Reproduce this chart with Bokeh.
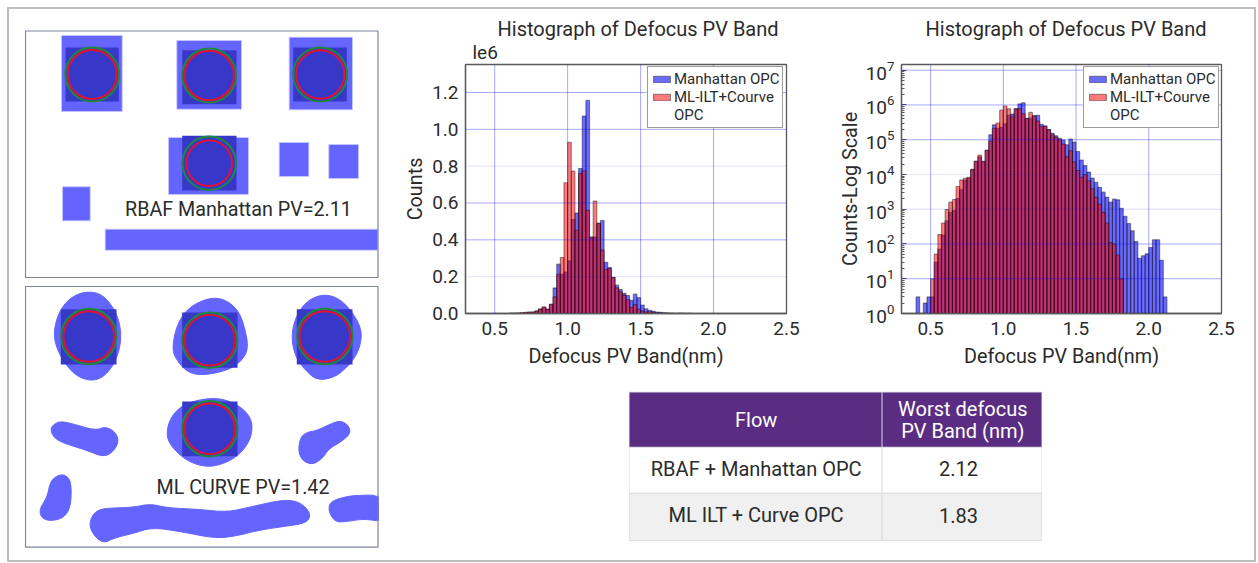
from bokeh.plotting import figure
from bokeh.layouts import row, column
from bokeh.models import (Range1d, FixedTicker, LogTicker, Span, Legend, LegendItem, Title)
from bokeh.core.properties import value
from bokeh.embed import file_html
from bokeh.resources import INLINE

# ---------------- histogram data ----------------
bin_start = 0.4
bin_width = 0.025
manhattan_counts = [3, 0, 2, 3, 3, 30, 72, 182, 468, 813, 912, 2040, 3700, 6900, 7900, 13800, 24000, 32000, 24000,
                    50000, 139000, 268000, 213000, 226000, 286000, 510000, 546000, 787000, 1072000, 1157000,
                    416000, 416000, 490000, 505000, 278000, 250000, 197000, 154000, 130000, 110000, 98000,
                    72000, 105000, 86000, 46000, 26000, 18000, 11700, 7900, 6000, 4300, 3100, 2200, 1600,
                    1950, 1860, 1070, 630, 390, 240, 117, 39, 46, 52, 79, 132, 132, 34, 3]
ml_first_bin = 4
ml_counts = [10, 51, 186, 400, 980, 1600, 1900, 4500, 6900, 7800, 8300, 14000, 24000, 36000, 23000, 50000, 90000,
             213000, 304000, 710000, 930000, 774000, 452000, 760000, 774000, 560000, 410000, 611000, 490000,
             344000, 239000, 244000, 195000, 139000, 118000, 100000, 75000, 32000, 48000, 23000, 13000, 8300,
             9800, 6500, 3900, 2200, 1400, 810, 400, 110, 100, 48, 10]
x_ticks = [0.5, 1.0, 1.5, 2.0, 2.5]
lin_ticks = [0, 200000, 400000, 600000, 800000, 1000000, 1200000]
lin_labels = ["0.0", "0.2", "0.4", "0.6", "0.8", "1.0", "1.2"]
lin_grid_alpha = [0, .12, .34, .34, .12, .34, .34]
log_ticks = [10, 100, 1000, 10000, 100000, 1000000, 10000000]
log_grid_alpha = [.34, .34, .14, .1, .34, .34, .34]
legend_labels = ["Manhattan OPC", "ML-ILT+Courve", "OPC"]
chart_title = "Histograph of Defocus PV Band"
x_title = "Defocus PV Band(nm)"

# ---------------- table ----------------
table_head = ["Flow", "Worst defocus", "PV Band (nm)"]
table_flows = ["RBAF + Manhattan OPC", "ML ILT + Curve OPC"]
table_worst = ["2.12", "1.83"]

# ---------------- layout schematic (top panel, px in panel space) ----------------
top_assist = [(61, 121.7, 35, 111), (176.3, 241, 40, 108.7), (288.7, 352, 36.7, 109.3), (168, 248, 137, 194),
              (278.7, 308.3, 142, 176), (328.3, 358, 144, 178), (62, 89.7, 186.3, 220.3), (104.7, 377.3, 228.7, 249.7)]
top_squares = [(65, 118.3, 47, 101), (181.7, 236, 49.7, 103.7), (292.7, 346.3, 47, 101), (181.7, 236, 135.3, 190)]
top_circles = [(91.7, 74, 27, 24.5), (208.7, 75, 27, 24.7), (319.7, 74, 27, 24.2), (208.7, 162.7, 26.8, 22.8)]
bot_squares = [(60.3, 116, 308.7, 364), (181.7, 237, 312, 367.3), (296.3, 352, 308.7, 364), (181.7, 237, 401, 455.7)]
bot_circles = [(88.3, 336, 27.7, 25.3), (209.3, 339.7, 27.7, 25.3), (324.3, 336, 27.7, 25.3), (209.3, 428.3, 27.7, 25.3)]
bot_blobs = [
    [(250,33),(300,38),(335,75),(358,125),(362,185),(345,245),(310,290),(270,302),(225,285),(190,245),(165,195),(160,150),(175,95),(205,55)],
    [(625,52),(670,55),(710,85),(730,130),(745,205),(720,245),(680,270),(605,285),(560,275),(525,235),(515,200),(530,130),(565,80)],
    [(960,42),(1005,48),(1045,80),(1085,145),(1078,205),(1050,250),(1005,290),(950,300),(915,270),(885,230),(872,170),(885,110),(915,65)],
    [(625,352),(680,358),(730,385),(757,425),(750,480),(710,530),(650,557),(600,557),(550,535),(510,495),(497,460),(510,410),(550,370)],
    [(175,422),(210,428),(285,450),(315,438),(345,455),(355,482),(340,512),(310,530),(260,510),(180,485),(155,465),(150,440)],
    [(1020,420),(1045,435),(1050,460),(1020,485),(985,505),(965,535),(935,553),(905,540),(893,510),(900,470),(920,455),(950,450),(990,430)],
    [(180,580),(205,590),(213,620),(210,680),(190,712),(150,722),(122,712),(117,685),(140,650),(150,600)],
    [(300,685),(350,682),(400,680),(450,670),(500,682),(600,687),(680,695),(760,677),(850,657),(900,665),(932,700),(918,728),(850,738),(780,748),(700,768),(640,773),(540,753),(455,741),(400,758),(340,773),(310,788),(282,768),(266,735),(276,702)],
    [(1010,655),(1060,644),(1150,644),(1150,724),(1090,715),(1040,723),(1005,725),(985,695),(987,668)],
]
top_caption = "RBAF Manhattan PV=2.11"
bot_caption = "ML CURVE PV=1.42"

FONT = "Roboto"
INK = "#2b2b2b"
LIGHT = "#6464ff"
DARK = "#3838c8"


def chaikin(pts, n=2):
    for _ in range(n):
        out = []
        for i in range(len(pts)):
            a, b = pts[i], pts[(i + 1) % len(pts)]
            out.append((.75 * a[0] + .25 * b[0], .75 * a[1] + .25 * b[1]))
            out.append((.25 * a[0] + .75 * b[0], .25 * a[1] + .75 * b[1]))
        pts = out
    return pts


def panel(y0, y1, margin):
    p = figure(width=355, height=int(y1 - y0) + 2, x_range=Range1d(24, 379), y_range=Range1d(y1 + 1, y0 - 1),
               output_backend="svg", toolbar_location=None, x_axis_type=None, y_axis_type=None,
               min_border=0, margin=margin, outline_line_color=None, background_fill_color="white")
    p.grid.visible = False
    return p


def draw_frame(p, y0, y1):
    p.quad(left=[25], right=[377.5], top=[y0], bottom=[y1], fill_alpha=0, line_color="#7d869e", line_width=1.2)


def draw_cells(p, squares, circles):
    p.quad(left=[s[0] for s in squares], right=[s[1] for s in squares], top=[s[2] for s in squares],
           bottom=[s[3] for s in squares], fill_color=DARK, line_color=None)
    for attr, col, lw in ((2, "#1b8a3f", 2), (3, "#e8102e", 1.9)):
        p.scatter(x=[c[0] for c in circles], y=[c[1] for c in circles], size=[2 * c[attr] for c in circles],
                  marker="circle", fill_alpha=0, line_color=col, line_width=lw)


top = panel(30, 277, (21, 0, 0, 16))
top.quad(left=[r[0] for r in top_assist], right=[r[1] for r in top_assist], top=[r[2] for r in top_assist],
         bottom=[r[3] for r in top_assist], fill_color=LIGHT, line_color="#c8c8ff", line_width=0.8)
draw_cells(top, top_squares, top_circles)
top.text(x=[238], y=[209], text=[top_caption], text_align="center", text_baseline="middle",
         text_font=value(FONT), text_font_size="19.7px", text_color=INK)
draw_frame(top, 30.5, 277)

bot = panel(286, 547, (7, 0, 0, 16))
xs = []
ys = []
for blob in bot_blobs:
    pts = chaikin([(px / 3, 280 + py / 3) for px, py in blob])
    xs.append([q[0] for q in pts])
    ys.append([q[1] for q in pts])
bot.patches(xs, ys, fill_color=LIGHT, line_color=LIGHT, line_width=1)
draw_cells(bot, bot_squares, bot_circles)
bot.text(x=[242.5], y=[487], text=[bot_caption], text_align="center", text_baseline="middle",
         text_font=value(FONT), text_font_size="19.7px", text_color=INK)
draw_frame(bot, 286, 546.7)


def histogram(log, frame_w, border_l, border_r, title_offset, legend_x, corner_text):
    edges_m = [bin_start + bin_width * i for i in range(len(manhattan_counts))]
    edges_r = [bin_start + bin_width * (i + ml_first_bin) for i in range(len(ml_counts))]
    kw = dict(y_axis_type="log", y_range=Range1d(1, 1.46e7)) if log else dict(y_range=Range1d(0, 1.352e6))
    p = figure(frame_width=frame_w, frame_height=249, x_range=Range1d(0.3, 2.5), output_backend="svg",
               toolbar_location=None, min_border_left=border_l, min_border_right=border_r, min_border_top=50,
               min_border_bottom=60, margin=(6, 0, 0, 0), **kw)
    base = 1 if log else 0
    lm = [e for e, c in zip(edges_m, manhattan_counts) if c > 0]
    tm = [c for c in manhattan_counts if c > 0]
    style = dict(line_color="#000000", line_alpha=.42, line_width=1.1)
    r1 = p.quad(left=lm, right=[e + bin_width for e in lm], top=tm, bottom=base, fill_color="#0000ff",
                fill_alpha=.58, **style)
    r2 = p.quad(left=edges_r, right=[e + bin_width for e in edges_r], top=ml_counts, bottom=base,
                fill_color="#ff0000", fill_alpha=.52, **style)
    r3 = p.quad(left=[], right=[], top=[], bottom=[], fill_alpha=0, line_alpha=0)
    p.grid.visible = False
    for t in x_ticks[:-1]:
        p.add_layout(Span(location=t, dimension="height", line_color="#0000ff", line_alpha=.34, line_width=1))
    for t, a in zip(log_ticks if log else lin_ticks, log_grid_alpha if log else lin_grid_alpha):
        if a:
            p.add_layout(Span(location=t, dimension="width", line_color="#0000ff", line_alpha=a, line_width=1))
    p.outline_line_color = "#5a5a5a"
    p.outline_line_width = 1.3
    for ax in (p.xaxis[0], p.yaxis[0]):
        ax.axis_line_color = "#5a5a5a"
        ax.axis_line_width = 1.3
        ax.major_tick_line_color = "#5a5a5a"
        ax.minor_tick_line_color = "#5a5a5a"
        ax.major_tick_out = 0
        ax.major_tick_in = 0
        ax.minor_tick_out = 0
        ax.minor_tick_in = 0
        ax.major_label_text_font = FONT
        ax.major_label_text_font_size = "19px"
        ax.major_label_text_color = INK
        ax.axis_label_text_font = FONT
        ax.axis_label_text_font_style = "normal"
        ax.axis_label_text_font_size = "19.8px"
        ax.axis_label_text_color = INK
    p.xaxis[0].ticker = FixedTicker(ticks=x_ticks)
    p.xaxis[0].major_label_overrides = {t: f"{t:.1f}" for t in x_ticks}
    p.xaxis[0].major_label_standoff = 8
    p.xaxis[0].axis_label = x_title
    p.xaxis[0].axis_label_standoff = 7
    if log:
        p.yaxis[0].ticker = LogTicker(desired_num_ticks=8, num_minor_ticks=10)
        p.yaxis[0].major_tick_in = 5
        p.yaxis[0].minor_tick_in = 3
        p.yaxis[0].axis_label = "Counts-Log Scale"
        p.yaxis[0].axis_label_standoff = 1
    else:
        p.yaxis[0].ticker = FixedTicker(ticks=lin_ticks)
        p.yaxis[0].major_label_overrides = dict(zip(lin_ticks, lin_labels))
        p.yaxis[0].axis_label = "Counts"
        p.yaxis[0].axis_label_standoff = 2
    p.yaxis[0].major_label_standoff = 7
    p.title.text = chart_title
    p.title.align = "left"
    p.title.offset = title_offset
    p.title.standoff = -7
    p.title.text_font = FONT
    p.title.text_font_style = "normal"
    p.title.text_font_size = "20px"
    p.title.text_color = INK
    p.add_layout(Title(text=corner_text, align="left", offset=7, standoff=2, text_font=FONT,
                       text_font_style="normal", text_font_size="19px", text_color=INK), "above")
    leg = Legend(items=[LegendItem(label=value(n), renderers=[r]) for n, r in zip(legend_labels, (r1, r2, r3))],
                 location=(legend_x, 185), glyph_width=21, glyph_height=8, label_standoff=2,
                 label_text_font=FONT, label_text_font_size="15px", label_text_color=INK, label_height=14,
                 spacing=-1, padding=3, margin=0, border_line_color="#3a3a3a", border_line_width=1,
                 background_fill_color="white", background_fill_alpha=1)
    p.add_layout(leg)
    return p


h1 = histogram(False, 321, 65, 46, 32, 182, "le6")
h2 = histogram(True, 320, 69, 26, 24, 182, " ")

# table
tb = figure(width=414, height=151, x_range=Range1d(628, 1042), y_range=Range1d(541, 390.5), output_backend="svg",
            toolbar_location=None, x_axis_type=None, y_axis_type=None, min_border=0, outline_line_color=None,
            margin=(17, 0, 0, 228))
tb.grid.visible = False
col_l = [629, 882]
col_r = [881, 1041]
row_t = [392.5, 447.5, 493.5]
row_b = [446.5, 492.5, 539.7]
fills = ["#5b2d82", "#ffffff", "#f0f0f0"]
left, right, tops, bottoms, colors = [], [], [], [], []
for rt, rb, fc in zip(row_t, row_b, fills):
    for cl, cr in zip(col_l, col_r):
        left.append(cl); right.append(cr); tops.append(rt); bottoms.append(rb); colors.append(fc)
tb.quad(left=[628.3], right=[1041.7], top=[391.7], bottom=[540.7], fill_color="#d9d9de", line_color=None)
tb.quad(left=left, right=right, top=tops, bottom=bottoms, fill_color=colors, line_color=None)
tb.text(x=[755.7, 962.3, 962.3], y=[420, 409, 431], text=table_head, text_align="center", text_baseline="middle",
        text_font=value(FONT), text_font_size="20px", text_font_style="normal", text_color="white")
tb.text(x=[755.7, 755.7], y=[468.3, 515], text=table_flows, text_align="center", text_baseline="middle",
        text_font=value(FONT), text_font_size="20px", text_color=INK)
tb.text(x=[958, 958], y=[468.3, 515], text=table_worst, text_align="center", text_baseline="middle",
        text_font=value(FONT), text_font_size="20px", text_color=INK)

root = row(column(top, bot, width=371), column(row(h1, h2), tb), spacing=21, margin=(8, 0, 0, 8),
           styles={"box-shadow": "0 0 0 1px #bdbdbd, inset 0 0 0 1px #bdbdbd", "width": "1247px", "height": "553px"})

open("out.html", "w").write(file_html(root, INLINE))
